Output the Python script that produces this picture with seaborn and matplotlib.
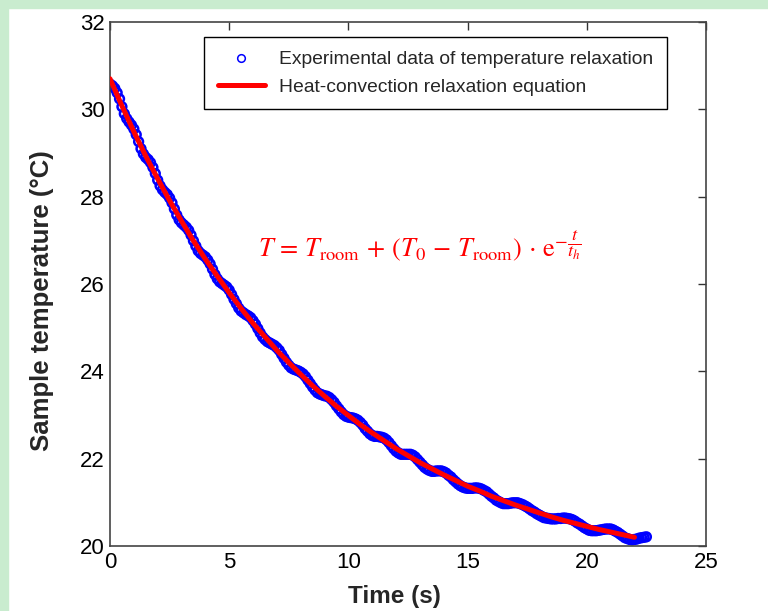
import matplotlib
matplotlib.use("Agg")
import matplotlib.pyplot as plt
import matplotlib.patches as mpatches
from matplotlib.lines import Line2D
import seaborn as sns
import numpy as np
import pandas as pd

# ---------------- data ----------------
time_step = 0.1
exp_temp = [
    30.58, 30.54, 30.48, 30.38, 30.24, 30.06, 29.90, 29.79, 29.71, 29.64,
    29.55, 29.42, 29.26, 29.10, 28.98, 28.90, 28.85, 28.78, 28.67, 28.53,
    28.38, 28.25, 28.16, 28.10, 28.05, 27.97, 27.86, 27.72, 27.58, 27.47,
    27.40, 27.35, 27.30, 27.23, 27.12, 26.99, 26.87, 26.76, 26.70, 26.66,
    26.62, 26.55, 26.46, 26.34, 26.22, 26.12, 26.05, 26.01, 25.97, 25.93,
    25.86, 25.76, 25.65, 25.55, 25.45, 25.38, 25.34, 25.30, 25.27, 25.23,
    25.16, 25.08, 24.98, 24.88, 24.79, 24.73, 24.68, 24.65, 24.62, 24.59,
    24.54, 24.48, 24.39, 24.30, 24.21, 24.14, 24.08, 24.05, 24.03, 24.01,
    23.98, 23.94, 23.88, 23.80, 23.72, 23.64, 23.57, 23.51, 23.48, 23.46,
    23.44, 23.43, 23.40, 23.35, 23.29, 23.21, 23.14, 23.07, 23.01, 22.97,
    22.95, 22.94, 22.93, 22.91, 22.88, 22.83, 22.77, 22.69, 22.63, 22.57,
    22.53, 22.51, 22.51, 22.50, 22.49, 22.47, 22.43, 22.37, 22.30, 22.23,
    22.17, 22.13, 22.10, 22.10, 22.10, 22.10, 22.10, 22.08, 22.04, 21.98,
    21.92, 21.86, 21.80, 21.76, 21.73, 21.71, 21.71, 21.72, 21.72, 21.72,
    21.70, 21.67, 21.62, 21.58, 21.52, 21.47, 21.42, 21.38, 21.35, 21.33,
    21.32, 21.32, 21.32, 21.33, 21.33, 21.32, 21.30, 21.27, 21.24, 21.19,
    21.14, 21.10, 21.05, 21.02, 20.99, 20.97, 20.97, 20.97, 20.98, 20.99,
    20.99, 20.99, 20.97, 20.95, 20.92, 20.89, 20.85, 20.81, 20.78, 20.74,
    20.71, 20.68, 20.65, 20.64, 20.63, 20.62, 20.62, 20.62, 20.63, 20.63,
    20.64, 20.64, 20.63, 20.62, 20.60, 20.57, 20.53, 20.50, 20.46, 20.42,
    20.39, 20.36, 20.35, 20.35, 20.35, 20.36, 20.37, 20.38, 20.39, 20.39,
    20.39, 20.37, 20.34, 20.31, 20.27, 20.23, 20.19, 20.17, 20.15, 20.14,
    20.15, 20.16, 20.18, 20.19, 20.20, 20.21,
]
exp_time = [round(i * time_step, 1) for i in range(len(exp_temp))]

fit_time = [0.0, 0.5, 1.0, 1.5, 2.0, 2.5, 3.0, 3.5, 4.0, 4.5, 5.0, 5.5, 6.0, 6.5,
            7.0, 7.5, 8.0, 8.5, 9.0, 9.5, 10.0, 10.5, 11.0, 11.5, 12.0, 12.5,
            13.0, 13.5, 14.0, 14.5, 15.0, 15.5, 16.0, 16.5, 17.0, 17.5, 18.0,
            18.5, 19.0, 19.5, 20.0, 20.5, 21.0, 21.5, 22.0]
fit_temp = [30.70, 30.08, 29.49, 28.93, 28.41, 27.91, 27.44, 26.99, 26.57, 26.18,
            25.80, 25.44, 25.10, 24.79, 24.48, 24.20, 23.93, 23.67, 23.43, 23.20,
            22.99, 22.78, 22.59, 22.41, 22.23, 22.07, 21.91, 21.77, 21.63, 21.50,
            21.37, 21.26, 21.14, 21.04, 20.94, 20.85, 20.76, 20.67, 20.59, 20.52,
            20.45, 20.38, 20.32, 20.26, 20.20]

x_ticks = [0, 5, 10, 15, 20, 25]
y_ticks = [20, 22, 24, 26, 28, 30, 32]

label_exp = "Experimental data of temperature relaxation"
label_fit = "Heat-convection relaxation equation"
x_label = "Time (s)"
y_label = "Sample temperature (\u00b0C)"
equation = (r"$T\,=\,T_{\mathrm{room}}\,+\,(T_0\,-\,T_{\mathrm{room}})\,\cdot\,"
            r"\mathrm{e}^{-\dfrac{t}{t_h}}$")

exp_df = pd.DataFrame({"time": exp_time, "temp": exp_temp})
fit_df = pd.DataFrame({"time": fit_time, "temp": fit_temp})

# ---------------- styling ----------------
sns.set_theme(style="white")
plt.rcParams["font.family"] = ["Liberation Sans", "DejaVu Sans"]
plt.rcParams["mathtext.fontset"] = "stix"

fig = plt.figure(figsize=(7.68, 6.11), dpi=100)
fig.patch.set_facecolor("white")
# light green page border of the reference
fig.patches.append(mpatches.Rectangle((0, 1 - 8 / 611), 1, 8 / 611, transform=fig.transFigure,
                                      color="#c9eccf", zorder=0))
fig.patches.append(mpatches.Rectangle((0, 0), 8 / 768, 1, transform=fig.transFigure,
                                      color="#c9eccf", zorder=0))

ax = fig.add_axes([110 / 768, 1 - 546 / 611, 596 / 768, 524 / 611])
ax.set_facecolor("white")

sns.scatterplot(data=exp_df, x="time", y="temp", ax=ax, marker="o", s=40,
                color="#0000ff", facecolor="none", edgecolor="#0000ff",
                linewidth=1.8, label=label_exp, zorder=2)
sns.lineplot(data=fit_df, x="time", y="temp", ax=ax, color="#ff0000",
             linewidth=3.6, label=label_fit, zorder=3)

ax.set_xlim(0, 25)
ax.set_ylim(20, 32)
ax.set_xticks(x_ticks)
ax.set_yticks(y_ticks)
ax.tick_params(axis="both", which="both", direction="in", length=6, width=1.0,
               top=True, right=True, labelsize=16, colors="#333333",
               labelcolor="black", pad=4)
for s in ax.spines.values():
    s.set_color("#444444")
    s.set_linewidth(1.2)

ax.set_xlabel(x_label, fontsize=17.5, fontweight="bold")
ax.set_ylabel(y_label, fontsize=18.5, fontweight="bold")
ax.xaxis.set_label_coords(0.4765, -0.074)
ax.yaxis.set_label_coords(-0.094, 0.469)

ax.text(13.0, 26.62, equation, color="#ff0000", fontsize=19, ha="center", va="baseline")

handles, labels = ax.get_legend_handles_labels()
marker_handle = Line2D([], [], linestyle="none", marker="o", markersize=5.5,
                       markerfacecolor="none", markeredgecolor="#0000ff",
                       markeredgewidth=1.1)
leg = ax.legend([marker_handle, handles[1]], labels,
                loc="upper right", bbox_to_anchor=(0.9346, 0.9714), borderaxespad=0,
                fontsize=13.9, frameon=True, fancybox=False, edgecolor="black",
                handlelength=2.4, handletextpad=0.75, borderpad=0.72, labelspacing=0.5)
leg.get_frame().set_linewidth(1.0)
leg.get_frame().set_alpha(1)

fig.savefig("out.png", dpi=100, facecolor=fig.get_facecolor())
